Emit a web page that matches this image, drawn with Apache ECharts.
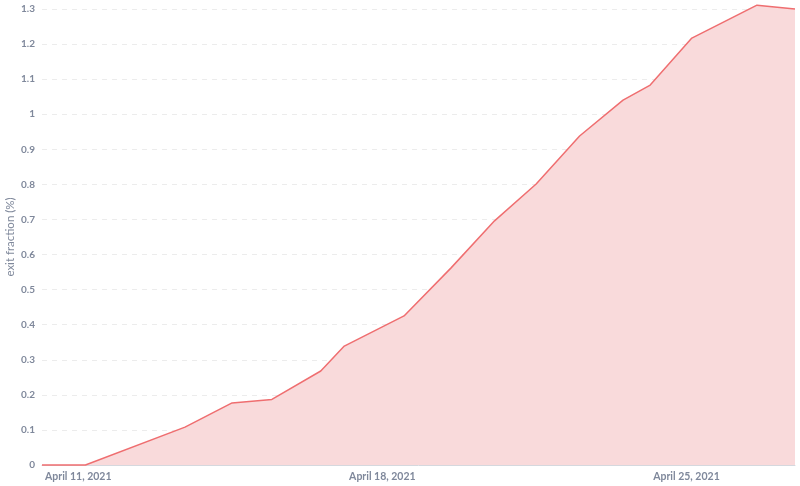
<!DOCTYPE html>
<html><head><meta charset="utf-8">
<script src="https://cdn.jsdelivr.net/npm/echarts@6/dist/echarts.min.js"></script>
<style>html,body{margin:0;padding:0;background:#fff}#c{width:800px;height:486px}</style>
</head><body><div id="c"></div>
<script>
var times = ['2021-04-11T00:00','2021-04-12T00:00','2021-04-14T07:00','2021-04-15T09:00','2021-04-16T07:00','2021-04-17T10:00','2021-04-17T23:00','2021-04-19T08:00','2021-04-20T10:00','2021-04-21T10:00','2021-04-22T09:00','2021-04-23T09:00','2021-04-24T09:00','2021-04-25T00:00','2021-04-25T23:00','2021-04-27T11:00','2021-04-28T08:00'];
var exitFraction = [0, 0, 0.108, 0.177, 0.187, 0.268, 0.339, 0.425, 0.562, 0.696, 0.801, 0.938, 1.04, 1.083, 1.217, 1.311, 1.30];
var yTicks = [0,0.1,0.2,0.3,0.4,0.5,0.6,0.7,0.8,0.9,1,1.1,1.2,1.3];
var months = ['January','February','March','April','May','June','July','August','September','October','November','December'];
var DAY = 86400000;
function ts(s){ return Date.parse(s + ':00Z'); }
var pts = times.map(function(t,i){ return [ts(t), exitFraction[i]]; });
var chart = echarts.init(document.getElementById('c'));
chart.setOption({
  animation:false,
  grid:{left:42,right:5,top:9,bottom:21,containLabel:false,outerBoundsMode:'none'},
  xAxis:{type:'value',min:ts(times[0]),max:ts(times[times.length-1]),interval:7*DAY,
    axisLine:{lineStyle:{color:'#d5d8de'}},
    axisTick:{show:false},
    splitLine:{show:false},
    axisLabel:{align:'left',margin:6,color:'#7f889b',fontFamily:'Lato',fontWeight:'bold',fontSize:10.5,padding:[0,0,0,3],
      showMaxLabel:false,
      formatter:function(v){var d=new Date(v);return months[d.getUTCMonth()]+' '+d.getUTCDate()+', '+d.getUTCFullYear();}}},
  yAxis:{type:'value',min:yTicks[0],max:yTicks[yTicks.length-1],interval:0.1,
    name:'exit fraction (%)',nameLocation:'middle',nameGap:26,nameMoveOverlap:false,
    nameTextStyle:{color:'#7f889b',fontFamily:'Lato',fontSize:11.5},
    axisLine:{show:false},axisTick:{show:false},
    splitLine:{lineStyle:{color:'#ececec',type:[5,5]}},
    axisLabel:{color:'#7f889b',fontFamily:'Lato',fontWeight:'bold',fontSize:10,margin:7,
      formatter:function(v){return String(Math.round(v*10)/10);}}},
  series:[{type:'line',data:pts,symbol:'none',clip:false,
    lineStyle:{color:'#ef6e70',width:1.5},
    areaStyle:{color:'#f9dadb',opacity:1}}]
});
</script></body></html>
